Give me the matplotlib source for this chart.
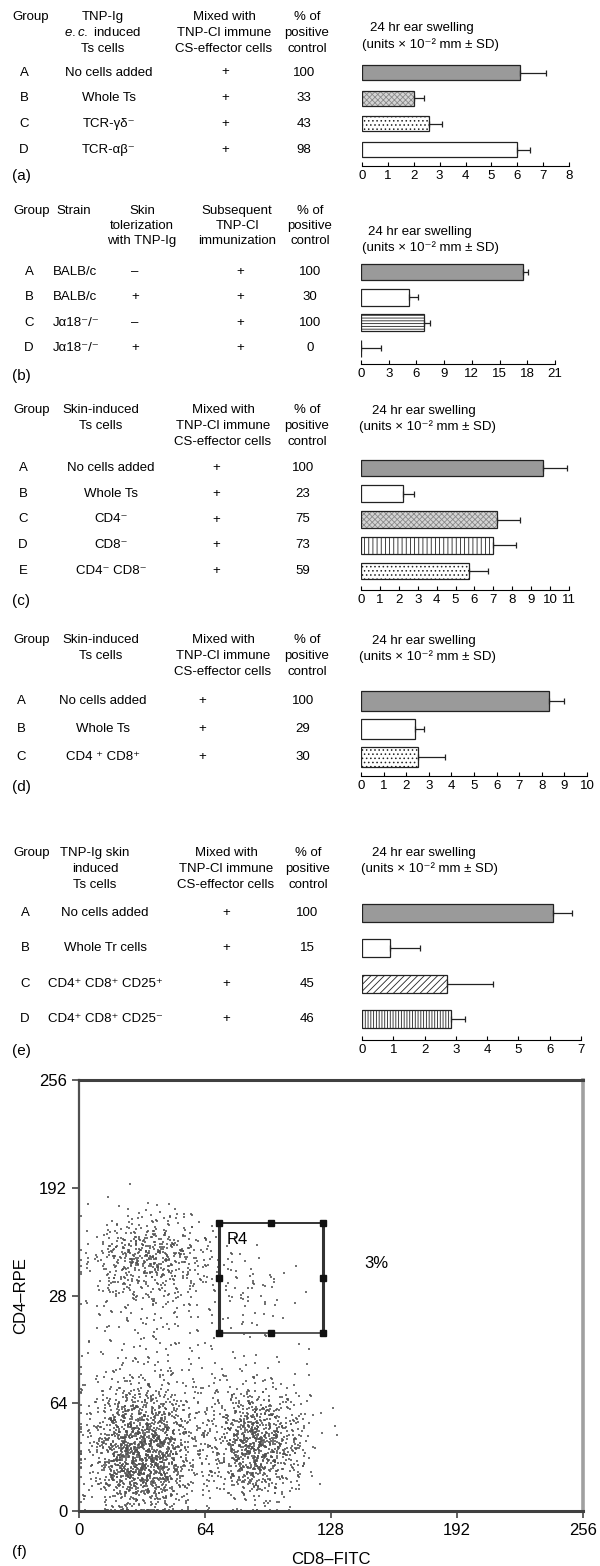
import numpy as np
import matplotlib
matplotlib.use('Agg')
import matplotlib.pyplot as plt
from matplotlib.transforms import blended_transform_factory

plt.rcParams['font.family'] = ['Liberation Sans', 'DejaVu Sans']
plt.rcParams['mathtext.fontset'] = 'custom'
plt.rcParams['mathtext.rm'] = 'Liberation Sans'
plt.rcParams['mathtext.it'] = 'Liberation Sans:italic'
plt.rcParams['hatch.linewidth'] = 0.6

# ---------------- data ----------------
UNITS = '(units × 10⁻² mm ± SD)'
TITLE = '24 hr ear swelling'
MIXED = ['Mixed with', 'TNP-Cl immune', 'CS-effector cells']
PCT = ['% of', 'positive', 'control']

# (a)
a_group = ['A', 'B', 'C', 'D']
a_cells = ['No cells added', 'Whole Ts', 'TCR-γδ⁻', 'TCR-αβ⁻']
a_mixed = ['+', '+', '+', '+']
a_pct = ['100', '33', '43', '98']
a_mean = [6.1, 2.0, 2.6, 6.0]
a_sd = [1.0, 0.4, 0.5, 0.5]

# (b)
b_group = ['A', 'B', 'C', 'D']
b_strain = ['BALB/c', 'BALB/c', 'Jα18⁻/⁻', 'Jα18⁻/⁻']
b_toler = ['–', '+', '–', '+']
b_immun = ['+', '+', '+', '+']
b_pct = ['100', '30', '100', '0']
b_mean = [17.5, 5.2, 6.8, 0.0]
b_sd = [0.6, 1.0, 0.7, 2.2]

# (c)
c_group = ['A', 'B', 'C', 'D', 'E']
c_cells = ['No cells added', 'Whole Ts', 'CD4⁻', 'CD8⁻', 'CD4⁻ CD8⁻']
c_mixed = ['+', '+', '+', '+', '+']
c_pct = ['100', '23', '75', '73', '59']
c_mean = [9.6, 2.2, 7.2, 7.0, 5.7]
c_sd = [1.3, 0.6, 1.2, 1.2, 1.0]

# (d)
d_group = ['A', 'B', 'C']
d_cells = ['No cells added', 'Whole Ts', 'CD4 ⁺ CD8⁺']
d_mixed = ['+', '+', '+']
d_pct = ['100', '29', '30']
d_mean = [8.3, 2.4, 2.5]
d_sd = [0.7, 0.4, 1.2]

# (e)
e_group = ['A', 'B', 'C', 'D']
e_cells = ['No cells added', 'Whole Tr cells', 'CD4⁺ CD8⁺ CD25⁺', 'CD4⁺ CD8⁺ CD25⁻']
e_mixed = ['+', '+', '+', '+']
e_pct = ['100', '15', '45', '46']
e_mean = [6.1, 0.9, 2.73, 2.83]
e_sd = [0.6, 0.95, 1.45, 0.45]

# (f) flow cytometry dot density, events per 16x16 bin (rows: CD4 bins from 0 up, cols: CD8 bins from 0)
f_xedges = [0, 16, 32, 48, 64, 80, 96, 112]
f_yedges = [0, 16, 32, 48, 64, 80, 96, 112, 128, 144, 160, 176]
f_counts = [
    [10, 80, 80, 15, 8, 30, 12, 0],
    [30, 230, 230, 40, 30, 160, 60, 2],
    [35, 230, 220, 45, 50, 250, 100, 4],
    [25, 140, 130, 35, 40, 140, 60, 4],
    [12, 45, 40, 18, 18, 30, 14, 2],
    [6, 14, 14, 8, 6, 6, 3, 1],
    [5, 10, 12, 8, 5, 5, 2, 0],
    [6, 16, 18, 12, 10, 12, 4, 0],
    [12, 50, 55, 25, 18, 20, 5, 0],
    [18, 110, 130, 55, 10, 3, 0, 0],
    [4, 30, 40, 15, 2, 0, 0, 0],
    [0, 2, 3, 1, 0, 0, 0, 0],
]
f_ticks = [0, 64, 128, 192, 256]
f_xticklabels = ['0', '64', '128', '192', '256']
f_yticklabels = ['0', '64', '28', '192', '256']
gate_x = [71, 124]
gate_y = [106, 171]

# ---------------- helpers ----------------
W, H = 600, 1566
fig = plt.figure(figsize=(W / 100, H / 100), dpi=100)
FS = 9.5


def px_axes(x0, y0, x1, y1):
    return fig.add_axes([x0 / W, 1 - y1 / H, (x1 - x0) / W, (y1 - y0) / H])


def ftext(x, y, s, **kw):
    kw.setdefault('fontsize', FS)
    kw.setdefault('va', 'center')
    fig.text(x / W, 1 - y / H, s, **kw)


GRAY = ('#9a9a9a', None, None)
WHITE = ('white', None, None)
FINE = ('#d4d4d4', 'xxxxxx', '#8a8a8a')
DOTS = ('white', '....', '#222222')
HLINES = ('white', '------', '#222222')
VLINES = ('white', '||||', '#222222')
VLINES2 = ('white', '||||||', '#222222')
DIAG = ('white', '/////', '#222222')


def bar_panel(lay, mean, sd, styles, columns):
    sp = lay['sp']
    top = lay['row0'] - 0.75 * sp
    ax = px_axes(lay['x0'], top, lay['x1'], lay['axis'])
    n = len(mean)
    for i in range(n):
        face, hatch, hcol = styles[i]
        if hatch:
            ax.barh(i, mean[i], height=lay['bh'], color=face, hatch=hatch,
                    edgecolor=hcol, linewidth=0)
        ax.barh(i, mean[i], height=lay['bh'], color=face if not hatch else 'none',
                edgecolor='#222222', linewidth=0.9)
        ax.errorbar(mean[i], i, xerr=[[0], [sd[i]]], fmt='none', ecolor='#222222',
                    elinewidth=0.9, capsize=2.5, capthick=0.9)
    ax.set_xlim(0, lay['xmax'])
    ax.set_ylim((lay['axis'] - lay['row0']) / sp, (top - lay['row0']) / sp)
    for s in ['top', 'right', 'left']:
        ax.spines[s].set_visible(False)
    ax.spines['bottom'].set_linewidth(0.8)
    ax.set_yticks([])
    ax.set_xticks(np.arange(0, lay['xmax'] + 0.01, lay['step']))
    ax.tick_params(axis='x', direction='in', length=3, width=0.8, pad=3, labelsize=FS)
    ax.patch.set_alpha(0)

    tr = blended_transform_factory(fig.transFigure, ax.transData)
    for (x, ha, vals) in columns:
        for i, v in enumerate(vals):
            ax.text(x / W, i, v, transform=tr, ha=ha, va='center', fontsize=FS)

    for (x, lines) in lay['headers']:
        for k, s in enumerate(lines):
            ftext(x, lay['hy'][k], s, ha='center')
    ftext(lay['t1'][0], lay['t1'][1], TITLE, ha='left')
    ftext(lay['t2'][0], lay['t2'][1], UNITS, ha='left')
    ftext(12, lay['label'], '(%s)' % lay['name'], ha='left', fontsize=11)
    return ax


# (a)
bar_panel(dict(name='a', row0=72.5, sp=25.7, axis=166, x0=362, x1=569, xmax=8, step=1, bh=0.58,
               hy=[17, 33, 49],
               headers=[(31, ['Group']), (103, ['TNP-Ig', r'$\mathit{e.c.}$ induced', 'Ts cells']),
                        (224, MIXED), (307, PCT)],
               t1=(370, 28), t2=(362, 45), label=176),
          a_mean, a_sd, [GRAY, FINE, DOTS, WHITE],
          [(24, 'center', a_group), (109, 'center', a_cells), (225, 'center', a_mixed),
           (304, 'center', a_pct)])

# (b)
bar_panel(dict(name='b', row0=272, sp=25.4, axis=364, x0=361, x1=555, xmax=21, step=3, bh=0.66,
               hy=[211, 226, 241],
               headers=[(32, ['Group']), (74, ['Strain']), (142, ['Skin', 'tolerization', 'with TNP-Ig']),
                        (237, ['Subsequent', 'TNP-Cl', 'immunization']), (310, PCT)],
               t1=(368, 232), t2=(362, 248), label=376),
          b_mean, b_sd, [GRAY, WHITE, HLINES, WHITE],
          [(29, 'center', b_group), (53, 'left', b_strain), (135, 'center', b_toler),
           (240, 'center', b_immun), (310, 'center', b_pct)])

# (c)
bar_panel(dict(name='c', row0=468, sp=25.75, axis=590, x0=361, x1=569, xmax=11, step=1, bh=0.66,
               hy=[410, 426, 442],
               headers=[(32, ['Group']), (101, ['Skin-induced', 'Ts cells']), (223, MIXED), (307, PCT)],
               t1=(372, 411), t2=(359, 427), label=601),
          c_mean, c_sd, [GRAY, WHITE, FINE, VLINES, DOTS],
          [(23, 'center', c_group), (111, 'center', c_cells), (216, 'center', c_mixed),
           (303, 'center', c_pct)])

# (d)
bar_panel(dict(name='d', row0=701, sp=28, axis=776, x0=361, x1=587, xmax=10, step=1, bh=0.68,
               hy=[640, 656, 672],
               headers=[(32, ['Group']), (101, ['Skin-induced', 'Ts cells']), (223, MIXED), (307, PCT)],
               t1=(372, 641), t2=(359, 657), label=787),
          d_mean, d_sd, [GRAY, WHITE, DOTS],
          [(21, 'center', d_group), (103, 'center', d_cells), (202, 'center', d_mixed),
           (303, 'center', d_pct)])

# (e)
bar_panel(dict(name='e', row0=913, sp=35.3, axis=1040, x0=362, x1=581, xmax=7, step=1, bh=0.51,
               hy=[853, 869, 885],
               headers=[(32, ['Group']), (95, ['TNP-Ig skin', 'induced', 'Ts cells']), (226, MIXED),
                        (308, PCT)],
               t1=(372, 853), t2=(361, 869), label=1051),
          e_mean, e_sd, [GRAY, WHITE, DIAG, VLINES2],
          [(25, 'center', e_group), (105, 'center', e_cells), (226, 'center', e_mixed),
           (307, 'center', e_pct)])

# ---------------- (f) dot plot ----------------


def halton(n, base):
    out = np.zeros(n)
    for i in range(n):
        f, r, k = 1.0, 0.0, i + 1
        while k > 0:
            f /= base
            r += f * (k % base)
            k //= base
        out[i] = r
    return out


# stipple each bin's events with a smooth (tent shaped) low-discrepancy pattern
counts = np.array(f_counts)
total = counts.sum()
h2, h3, h5, h7 = (halton(total, b) for b in (2, 3, 5, 7))
xs, ys = [], []
start = 0
bw = 16
for r, y0 in enumerate(f_yedges):
    for c, x0 in enumerate(f_xedges):
        nb = counts[r, c]
        if nb == 0:
            continue
        sl = slice(start, start + nb)
        start += nb
        xs.append(x0 + bw / 2 + (h2[sl] + h5[sl] - 1) * bw)
        ys.append(y0 + bw / 2 + (h3[sl] + h7[sl] - 1) * bw)
xs = np.clip(np.concatenate(xs), 0.8, 255)
ys = np.clip(np.concatenate(ys), 0.8, 255)

axf = px_axes(79, 1080, 583, 1511)
axf.scatter(xs, ys, s=2.0, marker='s', c='#505050', linewidths=0, alpha=0.8)
axf.set_xlim(0, 256)
axf.set_ylim(0, 256)
axf.set_xticks(f_ticks)
axf.set_xticklabels(f_xticklabels)
axf.set_yticks(f_ticks)
axf.set_yticklabels(f_yticklabels)
axf.tick_params(direction='out', length=5, width=1.2, labelsize=12, color='#444444')
axf.spines['top'].set_linewidth(2.2)
axf.spines['top'].set_color('#404040')
axf.spines['bottom'].set_linewidth(2.2)
axf.spines['bottom'].set_color('#404040')
axf.spines['left'].set_linewidth(1.6)
axf.spines['left'].set_color('#505050')
axf.spines['right'].set_linewidth(2.6)
axf.spines['right'].set_color('#a0a0a0')
axf.set_xlabel('CD8–FITC', fontsize=12, labelpad=10)
axf.set_ylabel('CD4–RPE', fontsize=12, labelpad=8)

# R4 gate
gx0, gx1 = gate_x
gy0, gy1 = gate_y
axf.plot([gx0, gx1], [gy1, gy1], color='#333333', lw=1.4)
axf.plot([gx0, gx1], [gy0, gy0], color='#555555', lw=1.4)
axf.plot([gx0, gx0], [gy0, gy1], color='#333333', lw=2.2)
axf.plot([gx1, gx1], [gy0, gy1], color='#333333', lw=2.2)
gmx, gmy = (gx0 + gx1) / 2, (gy0 + gy1) / 2
axf.plot([gx0, gmx, gx1, gx0, gx1, gx0, gmx, gx1], [gy1, gy1, gy1, gmy, gmy, gy0, gy0, gy0],
         's', color='#111111', ms=4.5, ls='none')
axf.text(gx0 + 4, gy1 - 10, 'R4', fontsize=12, va='center', ha='left')
axf.text(145, 147, '3%', fontsize=12, va='center', ha='left')

ftext(12, 1552, '(f)', ha='left', fontsize=11)

fig.savefig('out.png', dpi=100, facecolor='white')
